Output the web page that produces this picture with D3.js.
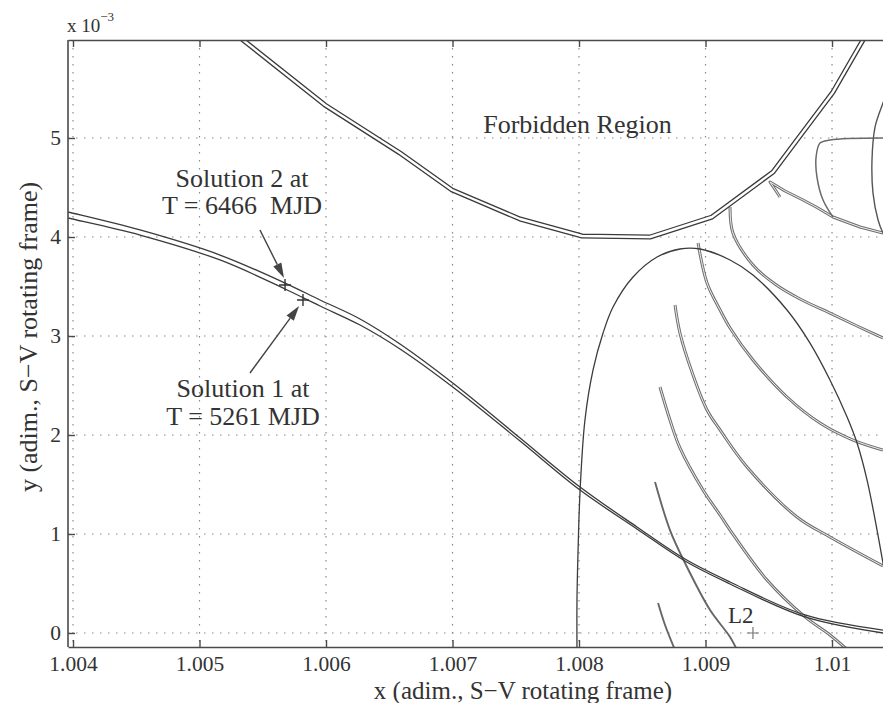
<!DOCTYPE html>
<html>
<head>
<meta charset="utf-8">
<script src="https://cdn.jsdelivr.net/npm/d3@7"></script>
<style>
  html, body { margin: 0; padding: 0; background: #fff; }
  svg { display: block; }
  text { font-family: "Liberation Serif", "Times New Roman", serif; fill: #333; }
</style>
</head>
<body>
<svg id="chart" width="883" height="703"></svg>
<script>
// ---------------- data (x adimensional, y in units of 1e-3) ----------------
const xTicks = [1.004, 1.005, 1.006, 1.007, 1.008, 1.009, 1.010];
const xTickLabels = ["1.004", "1.005", "1.006", "1.007", "1.008", "1.009", "1.01"];
const yTicks = [0, 1, 2, 3, 4, 5];
const yTickLabels = ["0", "1", "2", "3", "4", "5"];

// forbidden-region boundary (zero-velocity curve)
const boundary = [[1.00524,6.09],[1.005344,5.99],[1.005992,5.333],[1.006585,4.848],[1.006996,4.475],
  [1.007534,4.182],[1.008024,4.010],[1.008561,4.0],[1.009051,4.202],[1.009534,4.657],
  [1.009723,4.98],[1.010008,5.465],[1.010245,5.99],[1.01029,6.09]];

// solution trajectory (two close branches)
const solX = [1.003897,1.00396,1.00453,1.005162,1.005676,1.005953,1.006269,1.006585,1.007012,1.007534,1.008008,1.008458,1.008838,1.009194,1.009787,1.010403];
const solUpperY = [4.273,4.253,4.071,3.818,3.535,3.364,3.172,2.919,2.515,1.970,1.475,1.071,0.747,0.515,0.182,0.030];
const solLowerY = [4.212,4.192,4.020,3.768,3.475,3.303,3.111,2.869,2.475,1.939,1.444,1.051,0.727,0.495,0.162,0.0];

// large arch orbit
const arch = [[1.007984,-0.172],[1.007984,0.333],[1.007992,0.808],[1.008008,1.424],[1.008047,2.152],
  [1.008111,2.657],[1.00819,3.030],[1.008269,3.293],[1.008427,3.596],[1.008617,3.798],[1.008798,3.879],
  [1.008957,3.879],[1.009194,3.768],[1.009375,3.616],[1.009644,3.263],[1.009826,2.929],[1.009984,2.556],
  [1.010119,2.182],[1.010198,1.919],[1.010277,1.545],[1.010356,1.040],[1.010403,0.707],[1.010458,0.333]];

// manifold trajectories near L2
const trajB = [[1.008941,3.939],[1.009012,3.535],[1.009115,3.263],[1.009194,3.081],[1.009375,2.758],
  [1.009644,2.384],[1.009905,2.121],[1.010166,1.949],[1.010403,1.848]];
const trajC = [[1.009194,4.303],[1.009217,4.040],[1.009375,3.717],[1.009549,3.525],[1.009747,3.374],
  [1.009984,3.232],[1.010198,3.101],[1.010403,2.980]];
const trajD = [[1.009589,4.404],[1.00951,4.556],[1.009628,4.465],[1.009771,4.374],[1.009889,4.293],
  [1.010008,4.202],[1.010221,4.101],[1.010403,4.040]];
const trajE = [[1.010403,5.0],[1.009984,4.980],[1.009905,4.949],[1.009874,4.808],[1.009881,4.606],
  [1.009929,4.374],[1.010008,4.202]];
const trajF = [[1.010458,5.535],[1.010403,5.354],[1.01034,5.111],[1.010316,4.778],[1.010324,4.444],
  [1.010364,4.172],[1.010403,4.040],[1.010458,3.919]];
const trajG = [[1.008759,3.313],[1.008798,3.030],[1.008893,2.636],[1.009012,2.253],[1.009115,2.051],
  [1.009328,1.677],[1.009723,1.172],[1.009984,0.970],[1.010403,0.677]];
const trajH = [[1.00864,2.485],[1.008719,2.152],[1.008798,1.869],[1.00898,1.444],[1.009115,1.192],
  [1.009194,1.040],[1.009486,0.535],[1.009787,0.162],[1.009984,-0.020],[1.010142,-0.192]];
const trajI = [[1.008601,1.525],[1.008719,1.040],[1.008838,0.707],[1.009036,0.232],[1.009194,-0.040],[1.009249,-0.172]];
const trajJ = [[1.008625,0.303],[1.00868,0.081],[1.008759,-0.172]];

const sol2Point = [1.005676, 3.515];
const sol1Point = [1.005818, 3.364];
const l2Point = [1.009375, 0.0];

// ---------------- layout ----------------
const svg = d3.select("#chart");
const W = 883, H = 703;
const pL = 68, pR = 883, pT = 40, pB = 647;

const x = d3.scaleLinear().domain([1.0039605, 1.010403]).range([pL, pR]);
const y = d3.scaleLinear().domain([-0.1414, 5.990]).range([pB, pT]);

svg.append("rect").attr("width", W).attr("height", H).attr("fill", "#fff");

svg.append("defs").append("clipPath").attr("id", "plotclip")
  .append("rect").attr("x", pL).attr("y", pT).attr("width", pR - pL).attr("height", pB - pT);

// grid
const grid = svg.append("g").attr("stroke", "#8a8a8a").attr("stroke-width", 1.2)
  .attr("stroke-dasharray", "1.5,6.5");
grid.selectAll("line.gx").data(xTicks).join("line").attr("class", "gx")
  .attr("x1", d => x(d)).attr("x2", d => x(d)).attr("y1", pT).attr("y2", pB);
grid.selectAll("line.gy").data(yTicks).join("line").attr("class", "gy")
  .attr("x1", pL).attr("x2", pR).attr("y1", d => y(d)).attr("y2", d => y(d));

const plot = svg.append("g").attr("clip-path", "url(#plotclip)");

const lineXY = d3.line().x(d => x(d[0])).y(d => y(d[1])).curve(d3.curveCatmullRom.alpha(0.5));
const lineLin = d3.line().x(d => x(d[0])).y(d => y(d[1]));

function doubleLine(data, gen, outerColor, outerW, innerW) {
  plot.append("path").attr("d", gen(data)).attr("fill", "none")
    .attr("stroke", outerColor).attr("stroke-width", outerW).attr("stroke-linejoin", "round");
  plot.append("path").attr("d", gen(data)).attr("fill", "none")
    .attr("stroke", "#fff").attr("stroke-width", innerW).attr("stroke-linejoin", "round");
}
function singleLine(data, gen, color, w) {
  plot.append("path").attr("d", gen(data)).attr("fill", "none")
    .attr("stroke", color).attr("stroke-width", w).attr("stroke-linejoin", "round");
}

// gray manifold trajectories
[trajB, trajC, trajG, trajH].forEach(t => doubleLine(t, lineXY, "#707070", 3.0, 0.9));
doubleLine(trajD, lineLin, "#707070", 3.0, 0.9);
singleLine(trajE, lineXY, "#6a6a6a", 1.5);
singleLine(trajF, lineXY, "#555", 1.4);
singleLine(trajI, lineXY, "#666", 1.9);
singleLine(trajJ, lineXY, "#666", 1.9);

// arch orbit
singleLine(arch, lineXY, "#3c3c3c", 1.3);

// solution trajectory
singleLine(solX.map((v, i) => [v, solUpperY[i]]), lineXY, "#3a3a3a", 1.3);
singleLine(solX.map((v, i) => [v, solLowerY[i]]), lineXY, "#3a3a3a", 1.3);

// forbidden region boundary (double line)
doubleLine(boundary, lineLin, "#3a3a3a", 5.0, 2.4);

// markers
function plus(p, size, color, w) {
  const cx = x(p[0]), cy = y(p[1]);
  plot.append("path").attr("d", `M${cx - size},${cy}H${cx + size}M${cx},${cy - size}V${cy + size}`)
    .attr("stroke", color).attr("stroke-width", w).attr("fill", "none");
}
plus(sol2Point, 6, "#333", 1.4);
plus(sol1Point, 6, "#333", 1.4);
plus(l2Point, 6, "#777", 1.2);

// axes box
const axisColor = "#4a4a4a";
const xAxis = d3.axisBottom(x).tickValues(xTicks).tickFormat((d, i) => xTickLabels[i])
  .tickSize(-7).tickSizeOuter(0).tickPadding(9);
const gxA = svg.append("g").attr("transform", `translate(0,${pB})`).call(xAxis);
const xTop = d3.axisTop(x).tickValues(xTicks).tickFormat("").tickSize(-7).tickSizeOuter(0);
const gxT = svg.append("g").attr("transform", `translate(0,${pT})`).call(xTop);
const yAxis = d3.axisLeft(y).tickValues(yTicks).tickFormat((d, i) => yTickLabels[i])
  .tickSize(-7).tickSizeOuter(0).tickPadding(7);
const gyA = svg.append("g").attr("transform", `translate(${pL},0)`).call(yAxis);

[gxA, gxT, gyA].forEach(g => {
  g.attr("font-size", 21).attr("font-family", "'Liberation Serif','Times New Roman',serif");
  g.select(".domain").attr("stroke", axisColor).attr("stroke-width", 1.6);
  g.selectAll(".tick line").attr("stroke", axisColor).attr("stroke-width", 1.4);
  g.selectAll(".tick text").style("font-size", "21.5px").attr("fill", "#333");
});
gyA.select(".domain").attr("d", `M0,${pT}V${pB}`);

// exponent label
const expo = svg.append("text").attr("x", 67).attr("y", 32).attr("font-size", 19);
expo.append("tspan").text("x 10");
expo.append("tspan").attr("font-size", 13).attr("dy", -11).text("\u22123");

// axis titles
svg.append("text").attr("x", 523).attr("y", 699).attr("text-anchor", "middle")
  .attr("font-size", 25).text("x (adim., S\u2212V rotating frame)");
svg.append("text").attr("transform", `translate(37,337) rotate(-90)`).attr("text-anchor", "middle")
  .attr("font-size", 26).text("y (adim., S\u2212V rotating frame)");

// annotations
svg.append("text").attr("x", x(1.007988)).attr("y", y(5.051)).attr("text-anchor", "middle")
  .attr("font-size", 26).attr("fill", "#3a3a3a").text("Forbidden Region");

function label2(cx, y1, y2, l1, l2) {
  svg.append("text").attr("x", x(cx)).attr("y", y(y1)).attr("text-anchor", "middle")
    .attr("font-size", 26).attr("fill", "#3a3a3a").text(l1);
  svg.append("text").attr("x", x(cx)).attr("y", y(y2)).attr("text-anchor", "middle")
    .attr("font-size", 26).attr("fill", "#3a3a3a").attr("xml:space", "preserve").text(l2);
}
label2(1.005336, 4.505, 4.232, "Solution 2 at", "T = 6466  MJD");
label2(1.005344, 2.384, 2.101, "Solution 1 at", "T = 5261 MJD");

function arrow(from, to) {
  const x1 = x(from[0]), y1 = y(from[1]), x2 = x(to[0]), y2 = y(to[1]);
  const ang = Math.atan2(y2 - y1, x2 - x1);
  const L = 15, hw = 4.5;
  const bx = x2 - L * Math.cos(ang), by = y2 - L * Math.sin(ang);
  svg.append("line").attr("x1", x1).attr("y1", y1).attr("x2", bx).attr("y2", by)
    .attr("stroke", "#444").attr("stroke-width", 1.4);
  const px = -Math.sin(ang), py = Math.cos(ang);
  svg.append("path").attr("d", `M${x2},${y2}L${bx + px * hw},${by + py * hw}L${bx - px * hw},${by - py * hw}Z`)
    .attr("fill", "#444");
}
arrow([1.005478, 4.071], [1.005668, 3.586]);
arrow([1.005399, 2.626], [1.005787, 3.303]);

svg.append("text").attr("x", x(1.009178)).attr("y", y(0.101)).attr("font-size", 23)
  .attr("fill", "#3a3a3a").text("L2");
</script>
</body>
</html>
